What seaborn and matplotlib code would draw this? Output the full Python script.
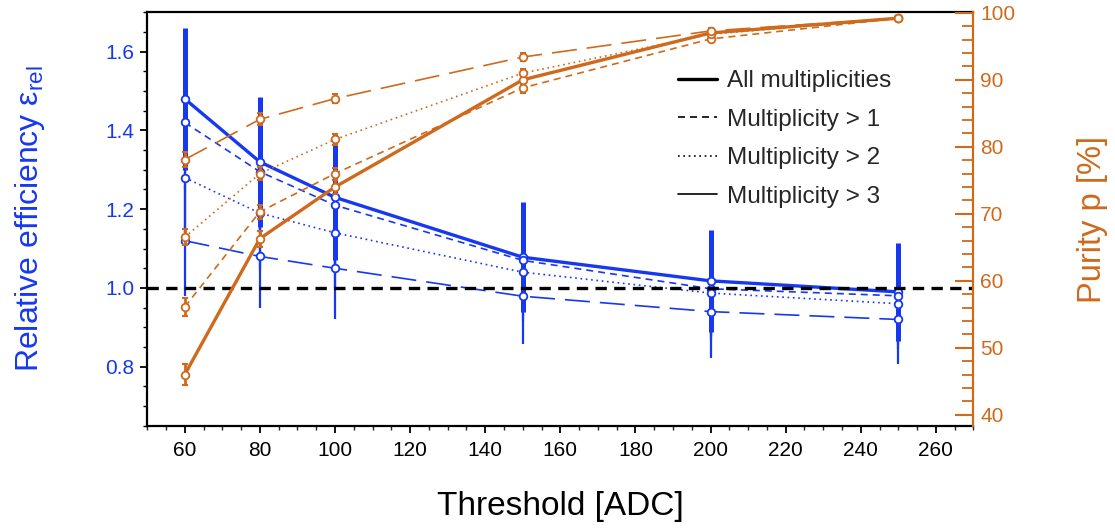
import matplotlib
matplotlib.use("Agg")
import matplotlib.pyplot as plt
from matplotlib.ticker import MultipleLocator
from matplotlib.lines import Line2D
import seaborn as sns

# ------------------------------
# Data
# ------------------------------
threshold = [60, 80, 100, 150, 200, 250]
labels = ["All multiplicities", "Multiplicity > 1", "Multiplicity > 2", "Multiplicity > 3"]

eff_all = [1.48, 1.32, 1.23, 1.078, 1.018, 0.99]
eff_m1 = [1.42, 1.295, 1.21, 1.07, 0.998, 0.98]
eff_m2 = [1.28, 1.19, 1.14, 1.04, 0.987, 0.96]
eff_m3 = [1.12, 1.08, 1.05, 0.979, 0.94, 0.92]

eff_err_all = [0.18, 0.165, 0.16, 0.14, 0.13, 0.125]
eff_err_m1 = [0.17, 0.155, 0.15, 0.13, 0.12, 0.12]
eff_err_m2 = [0.155, 0.145, 0.14, 0.125, 0.12, 0.115]
eff_err_m3 = [0.14, 0.13, 0.128, 0.12, 0.117, 0.114]

pur_all = [46.0, 66.3, 74.0, 90.0, 97.0, 99.2]
pur_m1 = [56.1, 70.3, 76.0, 88.8, 96.1, 99.2]
pur_m2 = [66.5, 76.0, 81.1, 91.0, 96.8, 99.2]
pur_m3 = [78.1, 84.1, 87.2, 93.4, 97.3, 99.2]

pur_err_all = [1.6, 1.2, 1.0, 0.8, 0.6, 0.3]
pur_err_m1 = [1.3, 1.0, 0.9, 0.7, 0.5, 0.3]
pur_err_m2 = [1.2, 1.0, 0.8, 0.6, 0.5, 0.3]
pur_err_m3 = [1.1, 0.9, 0.7, 0.6, 0.4, 0.3]

eff_vals = [eff_all, eff_m1, eff_m2, eff_m3]
eff_errs = [eff_err_all, eff_err_m1, eff_err_m2, eff_err_m3]
pur_vals = [pur_all, pur_m1, pur_m2, pur_m3]
pur_errs = [pur_err_all, pur_err_m1, pur_err_m2, pur_err_m3]

# ------------------------------
# Styles
# ------------------------------
BLUE = "#1638f0"
ORANGE = "#cf6a1c"
line_styles = ["-", (0, (4.2, 3.0)), (0, (1.0, 2.2)), (0, (15, 6))]
line_widths = [2.4, 1.2, 1.2, 1.2]
err_widths = [3.6, 1.6, 1.6, 1.6]

sns.set_theme(style="ticks")
plt.rcParams["font.family"] = ["Liberation Sans", "DejaVu Sans"]
plt.rcParams["mathtext.fontset"] = "custom"
plt.rcParams["mathtext.rm"] = "Liberation Sans"
plt.rcParams["mathtext.it"] = "Liberation Sans"

fig, ax = plt.subplots(figsize=(11.15, 5.29), dpi=100)
fig.subplots_adjust(left=0.132, right=0.873, top=0.977, bottom=0.195)
ax2 = ax.twinx()

# ------------------------------
# Efficiency (left axis, blue)
# ------------------------------
for vals, errs, ls, lw, ew in zip(eff_vals, eff_errs, line_styles, line_widths, err_widths):
    ax.errorbar(threshold, vals, yerr=errs, fmt="none", ecolor=BLUE,
                elinewidth=ew, capsize=0, zorder=2)
    sns.lineplot(x=threshold, y=vals, ax=ax, color=BLUE, linewidth=lw,
                 linestyle=ls, marker="o", markersize=5.5, markerfacecolor="white",
                 markeredgecolor=BLUE, markeredgewidth=1.3, legend=False, zorder=3)

ax.axhline(1.0, color="black", linewidth=2.4, linestyle=(0, (3.4, 2.2)), zorder=4)

# ------------------------------
# Purity (right axis, orange)
# ------------------------------
for vals, errs, ls, lw in zip(pur_vals, pur_errs, line_styles, line_widths):
    ax2.errorbar(threshold, vals, yerr=errs, fmt="none", ecolor=ORANGE,
                 elinewidth=2.0, capsize=2.5, capthick=1.5, zorder=2)
    sns.lineplot(x=threshold, y=vals, ax=ax2, color=ORANGE, linewidth=lw,
                 linestyle=ls, marker="o", markersize=5.5, markerfacecolor="white",
                 markeredgecolor=ORANGE, markeredgewidth=1.3, legend=False, zorder=3)

# ------------------------------
# Axes cosmetics
# ------------------------------
ax.set_xlim(50, 270)
ax.set_ylim(0.65, 1.70)
ax2.set_ylim(38.35, 100.1)

ax.xaxis.set_major_locator(MultipleLocator(20))
ax.xaxis.set_minor_locator(MultipleLocator(5))
ax.yaxis.set_major_locator(MultipleLocator(0.2))
ax.yaxis.set_minor_locator(MultipleLocator(0.05))
ax2.yaxis.set_major_locator(MultipleLocator(10))
ax2.yaxis.set_minor_locator(MultipleLocator(2))

for side in ["left", "bottom", "top"]:
    ax.spines[side].set_color("black")
    ax.spines[side].set_linewidth(1.6)
ax.spines["right"].set_visible(False)
for side in ["left", "bottom", "top"]:
    ax2.spines[side].set_visible(False)
ax2.spines["right"].set_color(ORANGE)
ax2.spines["right"].set_linewidth(1.6)

ax.tick_params(axis="x", which="major", direction="out", length=5, width=1.3,
               labelsize=15, pad=6, colors="black")
ax.tick_params(axis="x", which="minor", direction="out", length=3, width=1.0)
ax.tick_params(axis="y", which="major", direction="out", length=5, width=1.3,
               labelsize=15, pad=4, labelcolor=BLUE, color="black")
ax.tick_params(axis="y", which="minor", direction="out", length=3, width=1.0, color="black")
ax2.tick_params(axis="y", which="major", direction="in", length=13, width=1.5,
                labelsize=15, pad=5, colors=ORANGE)
ax2.tick_params(axis="y", which="minor", direction="in", length=8, width=1.3, colors=ORANGE)

ax.set_xlabel("Threshold [ADC]", fontsize=24, color="black", labelpad=22)
ax.set_ylabel("Relative efficiency ε$_{\\rm rel}$", fontsize=23, color=BLUE, labelpad=42)
ax2.set_ylabel("Purity p [%]", fontsize=23.5, color=ORANGE, labelpad=44)

# ------------------------------
# Legend (black line styles)
# ------------------------------
handles = [Line2D([], [], color="black", linewidth=lw, linestyle=ls)
           for ls, lw in zip(line_styles, line_widths)]
handles[3] = Line2D([], [], color="black", linewidth=1.2, linestyle="-")
fig.legend(handles, labels, loc="upper left", bbox_to_anchor=(678 / 1115, 1 - 70 / 529),
           frameon=False, fontsize=17.5, handlelength=1.6, handletextpad=0.4,
           labelspacing=0.68, borderpad=0, borderaxespad=0)

plt.savefig("out.png", dpi=100)
